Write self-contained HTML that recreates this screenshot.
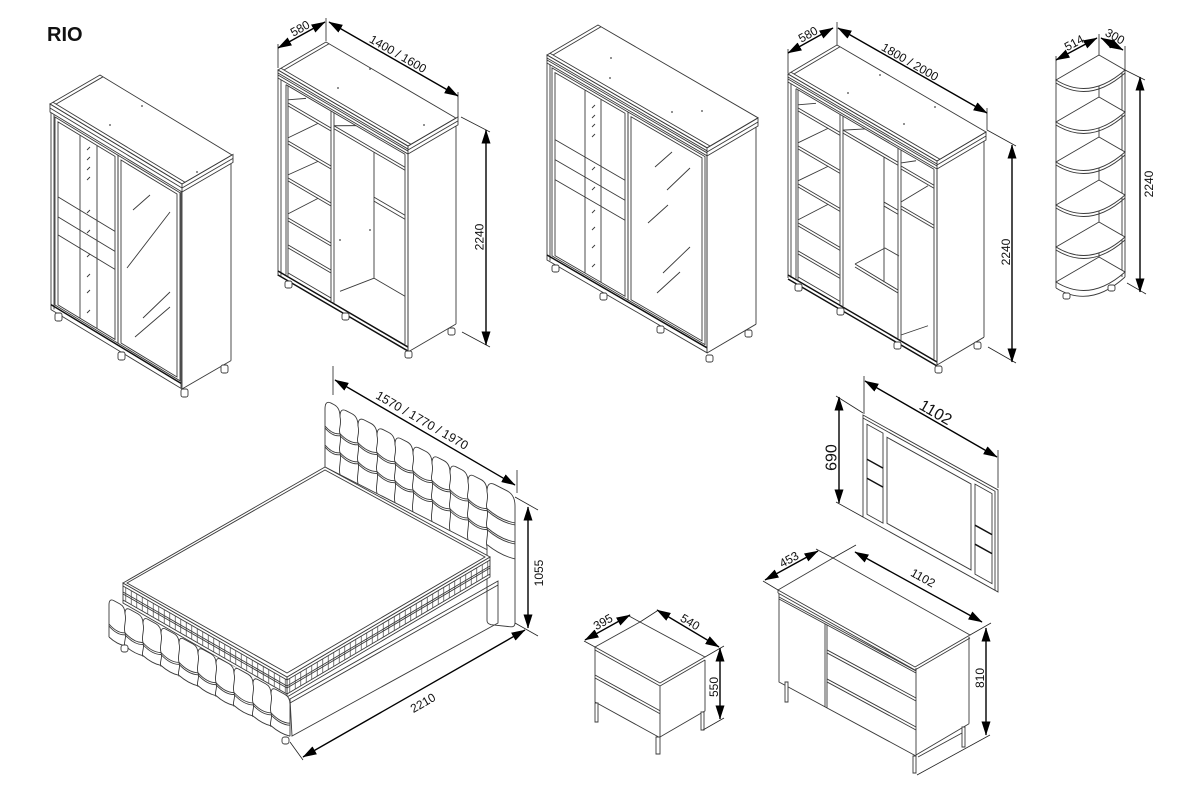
<!DOCTYPE html>
<html><head><meta charset="utf-8">
<style>
html,body{margin:0;padding:0;background:#fff;}
svg{display:block;}
svg *{vector-effect:non-scaling-stroke;}
.o path,.o rect,.o line{fill:none;stroke:#3a3a3a;stroke-width:0.9;}
.o .w{fill:#fff;}
.o .nf{fill:#fff;stroke:none;}
.o .k{stroke:#111;stroke-width:1.5;}
.o .p{fill:url(#tk);stroke:none;}
.o .dt{fill:#444;stroke:none;}
.d line,.d path{stroke:#000;stroke-width:1.4;fill:none;}
.e path{stroke:#222;stroke-width:0.8;fill:none;}
text{font-family:"Liberation Sans",Arial,sans-serif;fill:#111;}
.t{font-size:12px;}
.tb{font-size:16px;}
</style></head>
<body>
<svg width="1200" height="800" viewBox="0 0 1200 800" xmlns="http://www.w3.org/2000/svg">
<defs>
<marker id="ar" viewBox="0 0 14 9" refX="13.5" refY="4.5" markerWidth="14" markerHeight="9" markerUnits="userSpaceOnUse" orient="auto-start-reverse"><path d="M0 0L14 4.5L0 9Z" fill="#000" stroke="none"/></marker>
<pattern id="tk" patternUnits="userSpaceOnUse" width="5.5" height="40"><path d="M2.75 0V40" stroke="#555" stroke-width="0.7" fill="none"/></pattern>
</defs>

<text x="47" y="41" font-size="20" font-weight="bold">RIO</text>

<g class="o">
<!-- ===== Wardrobe 1 ===== -->
<g transform="matrix(1,0.606,1,-0.58,50,104)"><path d="M0 0H132V50H0Z M0 3H132 M3 3V50"/></g>
<g transform="matrix(1,0.606,0,1,50,104)">
<path d="M0 0H132V8H0Z M0 4H132"/>
<path d="M1 8V205H131V8 M4 8V203"/>
<path d="M5 10H68V198H5Z M8 13H65V196H8Z M30 13V196 M47 13V196 M8 88H65 M8 108H65 M8 126H65"/>
<path d="M68 10H130V198H68Z M71 13H127V196H71Z"/>
<path class="k" d="M1 200H131"/>
</g>
<g transform="matrix(1,-0.58,0,1,182,184)"><path d="M0 0H51V8H0 M0 4H51 M0 8V205 M49 8V205 M0 205H49"/></g>
<path d="M133 210L150 195 M127 268L170 212 M143 318L170 292 M135 337L170 307"/>
<path d="M87 150L90 147 M87 160L90 157 M87 170L90 167 M87 180L90 177 M87 213L90 210 M87 233L90 230 M87 257L90 254 M87 277L90 274 M87 293L90 290 M87 313L90 310"/>
<rect class="w" x="55" y="313" width="7" height="8" rx="2"/><rect class="w" x="118" y="352" width="7" height="8" rx="2"/><rect class="w" x="181" y="389" width="7" height="8" rx="2"/><rect class="w" x="221" y="365" width="7" height="8" rx="2"/>
<circle class="dt" cx="110" cy="125" r="0.9"/><circle class="dt" cx="142" cy="106" r="0.9"/><circle class="dt" cx="197" cy="172" r="0.9"/>

<!-- ===== Wardrobe 2 ===== -->
<g transform="matrix(1,0.585,1,-0.583,278,70)"><path d="M0 0H130V48H0Z M0 3H130 M3 3V48"/></g>
<g transform="matrix(1,0.585,0,1,278,70)">
<path d="M0 0H130V8H0Z M0 3H130 M0 5H130"/>
<path d="M0 8V206 M3 8V204 M8 10V200 M10 10V200 M130 8V206 M127 10V200 M8 10H127"/>
<path d="M53 10V200 M56 10V200"/>
<path d="M10 27H53 M10 30H53 M10 65H53 M10 68H53 M10 102H53 M10 105H53 M10 142H53 M10 145H53 M10 169H53 M10 172H53 M10 197H53"/>
<path d="M10 24L28 12 M10 62L40 30 M10 99L40 68 M10 138L40 105"/>
<path d="M56 23H127 M56 26H127 M56 23L78 10 M96 26V152 M96 71H127 M96 75H127 M96 71V75 M96 152H127 M96 152L62 185"/>
<path class="k" d="M0 201H130 M0 205H130"/>
</g>
<g transform="matrix(1,-0.583,0,1,408,146)"><path d="M0 0H50V8H0 M0 4H50 M0 8V206 M48 8V206 M0 206H48"/></g>
<rect class="w" x="285" y="281" width="7" height="7" rx="2"/><rect class="w" x="342" y="313" width="7" height="7" rx="2"/><rect class="w" x="405" y="351" width="7" height="7" rx="2"/><rect class="w" x="448" y="328" width="7" height="7" rx="2"/>
<circle class="dt" cx="338" cy="88" r="0.9"/><circle class="dt" cx="370" cy="69" r="0.9"/><circle class="dt" cx="424" cy="125" r="0.9"/><circle class="dt" cx="370" cy="230" r="0.9"/><circle class="dt" cx="340" cy="240" r="0.9"/>

<!-- ===== Wardrobe 3 ===== -->
<g transform="matrix(1,0.58,1,-0.588,547,55)"><path d="M0 0H160V51H0Z M0 3H160 M3 3V51"/></g>
<g transform="matrix(1,0.58,0,1,547,55)">
<path d="M0 0H160V8H0Z M0 3H160 M0 5H160"/>
<path d="M0 8V205H160V8 M3 8V204"/>
<path d="M5 10H81V198H5Z M8 13H78V196H8Z M38 13V196 M54 13V196 M8 80H78 M8 100H78 M8 120H78"/>
<path d="M81 10H158V198H81Z M84 13H155V196H84Z"/>
<path class="k" d="M0 200H160"/>
</g>
<g transform="matrix(1,-0.588,0,1,707,148)"><path d="M0 0H51V8H0 M0 4H51 M0 8V205 M49 8V205 M0 205H49"/></g>
<path d="M655 167L672 152 M667 190L690 168 M648 223L668 205 M663 273L690 247 M657 293L680 272"/>
<path d="M592 108L595 105 M592 118L595 115 M592 127L595 124 M592 137L595 134 M592 170L595 167 M592 190L595 187 M592 213L595 210 M592 230L595 227 M592 248L595 245 M592 267L595 264"/>
<rect class="w" x="552" y="265" width="7" height="7" rx="2"/><rect class="w" x="600" y="293" width="7" height="7" rx="2"/><rect class="w" x="657" y="326" width="7" height="7" rx="2"/><rect class="w" x="706" y="355" width="7" height="7" rx="2"/><rect class="w" x="745" y="330" width="7" height="7" rx="2"/>
<circle class="dt" cx="611" cy="58" r="0.9"/><circle class="dt" cx="610" cy="78" r="0.9"/><circle class="dt" cx="702" cy="111" r="0.9"/><circle class="dt" cx="672" cy="112" r="0.9"/>

<!-- ===== Wardrobe 4 ===== -->
<g transform="matrix(1,0.584,1,-0.592,788,74)"><path d="M0 0H149V49H0Z M0 3H149 M3 3V49"/></g>
<g transform="matrix(1,0.584,0,1,788,74)">
<path d="M0 0H149V8H0Z M0 3H149 M0 5H149"/>
<path d="M0 8V204 M3 8V202 M8 10V200 M10 10V200 M149 8V204 M146 10V200 M8 10H146"/>
<path d="M52 10V200 M55 10V200 M110 10V200 M113 10V200"/>
<path d="M10 28H52 M10 31H52 M10 66H52 M10 69H52 M10 104H52 M10 107H52 M10 143H52 M10 146H52 M10 171H52 M10 174H52 M10 197H52"/>
<path d="M10 25L28 13 M10 63L40 31 M10 101L40 69 M10 140L40 107"/>
<path d="M55 24H110 M55 27H110 M55 24L77 10 M96 27V152 M96 72H110 M96 76H110 M96 72V76"/>
<path d="M113 26H146 M113 29H146 M113 66H146 M113 69H146 M113 23L128 12 M113 62L140 30 M113 195L140 170"/>
<path class="k" d="M0 201H149 M0 205H149"/>
</g>
<g transform="matrix(1,-0.592,0,1,937,161)"><path d="M0 0H49V8H0 M0 4H49 M0 8V204 M47 8V204 M0 204H47"/></g>
<path d="M855 264L885 248L899 256 M855 264L898 290 M855 267L898 293"/>
<rect class="w" x="795" y="284" width="7" height="7" rx="2"/><rect class="w" x="837" y="308" width="7" height="7" rx="2"/><rect class="w" x="894" y="342" width="7" height="7" rx="2"/><rect class="w" x="935" y="366" width="7" height="7" rx="2"/><rect class="w" x="974" y="342" width="7" height="7" rx="2"/>
<circle class="dt" cx="848" cy="93" r="0.9"/><circle class="dt" cx="880" cy="75" r="0.9"/><circle class="dt" cx="904" cy="124" r="0.9"/><circle class="dt" cx="935" cy="107" r="0.9"/>

<!-- ===== Corner shelf ===== -->
<path d="M1056 80V288 M1125 70V277 M1122 72V277 M1099 55V259"/>
<path class="w" d="M1056 80L1099 55L1125 70Q1090 101 1056 80Z"/><path d="M1056 83Q1090 104 1125 73"/>
<path class="w" d="M1056 122L1099 97L1125 112Q1090 143 1056 122Z"/><path d="M1056 125Q1090 146 1125 115"/>
<path class="w" d="M1056 162L1099 137L1125 152Q1090 183 1056 162Z"/><path d="M1056 165Q1090 186 1125 155"/>
<path class="w" d="M1056 205L1099 180L1125 195Q1090 226 1056 205Z"/><path d="M1056 208Q1090 229 1125 198"/>
<path class="w" d="M1056 247L1099 222L1125 237Q1090 268 1056 247Z"/><path d="M1056 250Q1090 271 1125 240"/>
<path class="w" d="M1056 282L1099 257L1125 272Q1090 303 1056 282Z"/><path d="M1056 288Q1090 309 1125 277"/>
<rect class="w" x="1063" y="293" width="7" height="6" rx="2"/><rect class="w" x="1108" y="285" width="7" height="6" rx="2"/>

<!-- ===== Bed ===== -->
<g transform="matrix(1,0.51,0,1,325,400)">
<path d="M0 67V9Q0 0 6 0L9 0Q15 0 15 9 M0 26Q7.5 31 15 26 M0 28Q7.5 33 15 28 M0 45Q7.5 50 15 45 M0 47Q7.5 52 15 47"/>
<path d="M15 9Q15 0 21 0L27 0Q33 0 33 9 M15 26Q24 31 33 26 M15 28Q24 33 33 28 M15 45Q24 50 33 45 M15 47Q24 52 33 47 M15 9C17 17 13 22 15 26C17 34 13 40 15 45C17 52 13 60 15 67"/>
<path d="M33 9Q33 0 39 0L46 0Q52 0 52 9 M33 26Q42.5 31 52 26 M33 28Q42.5 33 52 28 M33 45Q42.5 50 52 45 M33 47Q42.5 52 52 47 M33 9C35 17 31 22 33 26C35 34 31 40 33 45C35 52 31 60 33 67"/>
<path d="M52 9Q52 0 58 0L64 0Q70 0 70 9 M52 26Q61 31 70 26 M52 28Q61 33 70 28 M52 45Q61 50 70 45 M52 47Q61 52 70 47 M52 9C54 17 50 22 52 26C54 34 50 40 52 45C54 52 50 60 52 67"/>
<path d="M70 9Q70 0 76 0L82 0Q88 0 88 9 M70 26Q79 31 88 26 M70 28Q79 33 88 28 M70 45Q79 50 88 45 M70 47Q79 52 88 47 M70 9C72 17 68 22 70 26C72 34 68 40 70 45C72 52 68 60 70 67"/>
<path d="M88 9Q88 0 94 0L101 0Q107 0 107 9 M88 26Q97.5 31 107 26 M88 28Q97.5 33 107 28 M88 45Q97.5 50 107 45 M88 47Q97.5 52 107 47 M88 9C90 17 86 22 88 26C90 34 86 40 88 45C90 52 86 60 88 67"/>
<path d="M107 9Q107 0 113 0L119 0Q125 0 125 9 M107 26Q116 31 125 26 M107 28Q116 33 125 28 M107 45Q116 50 125 45 M107 47Q116 52 125 47 M107 9C109 17 105 22 107 26C109 34 105 40 107 45C109 52 105 60 107 67"/>
<path d="M125 9Q125 0 131 0L137 0Q143 0 143 9 M125 26Q134 31 143 26 M125 28Q134 33 143 28 M125 45Q134 50 143 45 M125 47Q134 52 143 47 M125 9C127 17 123 22 125 26C127 34 123 40 125 45C127 52 123 60 125 67"/>
<path d="M143 9Q143 0 149 0L156 0Q162 0 162 9 M143 26Q152.5 31 162 26 M143 28Q152.5 33 162 28 M143 45Q152.5 50 162 45 M143 47Q152.5 52 162 47 M143 9C145 17 141 22 143 26C145 34 141 40 143 45C145 52 141 60 143 67"/>
<path d="M162 9Q162 -2 170 -2L182 -2Q190 -2 190 9 M162 26Q176 31 190 26 M162 28Q176 33 190 28 M162 45Q176 50 190 45 M162 47Q176 52 190 47 M162 9C164 17 160 22 162 26C164 34 160 40 162 45C164 52 160 60 162 64 M162 62Q176 66 190 62 M162 64V138Q162 141 166 140L186 132Q190 130 190 126V9"/>
<path d="M0 67H162"/>
</g>
<path d="M290 699L498 581V623L292 736Z M290 703L498 585"/>
<g transform="matrix(1,-0.591,0,1,287,677)">
<rect class="w" x="0" y="0" width="203" height="20"/>
<rect class="p" x="0" y="3" width="203" height="14"/>
<path d="M0 3H203 M0 9H203 M0 11H203 M0 17H203"/>
</g>
<g transform="matrix(1,0.573,0,1,123,583)">
<rect class="w" x="0" y="0" width="164" height="20"/>
<rect class="p" x="0" y="3" width="164" height="14"/>
<path d="M0 3H164 M0 9H164 M0 11H164 M0 17H164"/>
</g>
<path class="w" d="M123 583L325 467L490 557L287 677Z"/>
<path d="M127 583L325 470L485 557L287 673Z"/>
<g transform="matrix(1,0.548,0,1,109,600)">
<path class="nf" d="M0 5Q0 -2 5 -2H176Q181 -2 181 5V39H0Z"/>
<path d="M0 37V5Q0 -2 5 -2L11 -2Q16 -2 16 5 M0 24Q8 29 16 24 M0 26Q8 31 16 26 M0 37Q8 40 16 37"/>
<path d="M16 5Q16 -2 21 -2L29 -2Q34 -2 34 5 M16 24Q25 29 34 24 M16 26Q25 31 34 26 M16 37Q25 40 34 37 M16 5C18 11 14 18 16 24C18 29 14 34 16 38"/>
<path d="M34 5Q34 -2 39 -2L47 -2Q52 -2 52 5 M34 24Q43 29 52 24 M34 26Q43 31 52 26 M34 37Q43 40 52 37 M34 5C36 11 32 18 34 24C36 29 32 34 34 38"/>
<path d="M52 5Q52 -2 57 -2L65 -2Q70 -2 70 5 M52 24Q61 29 70 24 M52 26Q61 31 70 26 M52 37Q61 40 70 37 M52 5C54 11 50 18 52 24C54 29 50 34 52 38"/>
<path d="M70 5Q70 -2 75 -2L84 -2Q89 -2 89 5 M70 24Q79.5 29 89 24 M70 26Q79.5 31 89 26 M70 37Q79.5 40 89 37 M70 5C72 11 68 18 70 24C72 29 68 34 70 38"/>
<path d="M89 5Q89 -2 94 -2L102 -2Q107 -2 107 5 M89 24Q98 29 107 24 M89 26Q98 31 107 26 M89 37Q98 40 107 37 M89 5C91 11 87 18 89 24C91 29 87 34 89 38"/>
<path d="M107 5Q107 -2 112 -2L120 -2Q125 -2 125 5 M107 24Q116 29 125 24 M107 26Q116 31 125 26 M107 37Q116 40 125 37 M107 5C109 11 105 18 107 24C109 29 105 34 107 38"/>
<path d="M125 5Q125 -2 130 -2L139 -2Q144 -2 144 5 M125 24Q134.5 29 144 24 M125 26Q134.5 31 144 26 M125 37Q134.5 40 144 37 M125 5C127 11 123 18 125 24C127 29 123 34 125 38"/>
<path d="M144 5Q144 -2 149 -2L157 -2Q162 -2 162 5 M144 24Q153 29 162 24 M144 26Q153 31 162 26 M144 37Q153 40 162 37 M144 5C146 11 142 18 144 24C146 29 142 34 144 38"/>
<path d="M162 5Q162 -2 167 -2L176 -2Q181 -2 181 5V37 M162 24Q171.5 29 181 24 M162 26Q171.5 31 181 26 M162 37Q171.5 40 181 37 M162 5C164 11 160 18 162 24C164 29 160 34 162 38"/>
</g>
<rect class="w" x="121" y="645" width="7" height="7" rx="2.5"/><rect class="w" x="282" y="737" width="7" height="7" rx="2.5"/>

<!-- ===== Nightstand ===== -->
<path d="M595 647L640 622L705 657L660 683Z M595 650L660 686L705 660 M595 647V650"/>
<g transform="matrix(1,0.55,0,1,595,650)"><path d="M0 0V52H65V0 M0 25H65 M0 28H65"/></g>
<g transform="matrix(1,-0.58,0,1,660,686)"><path d="M45 0V51H0"/></g>
<rect class="w" x="595" y="703" width="3" height="19"/><rect class="w" x="656" y="737" width="4" height="17"/><rect class="w" x="701" y="712" width="3" height="18"/>

<!-- ===== Mirror ===== -->
<g transform="matrix(1,0.555,0,1,863,415)">
<path d="M0 0H135V102H0Z M0 3H132V102"/>
<path d="M4 7H20V97H4Z M24 9H108V95H24Z M112 7H129V97H112Z"/>
<path class="k" d="M4 42H20 M4 61H20 M112 48H129 M112 67H129"/>
</g>

<!-- ===== Dresser ===== -->
<path d="M778 590L833 558L970 635L915 667Z M778 593L915 670L970 638 M778 590V593"/>
<g transform="matrix(1,0.54,0,1,779,594)">
<path d="M0 0V88H137V0 M0 3H137 M0 5H137 M46 5V88 M48 5V88"/>
<path d="M48 30H137 M48 33H137 M48 59H137 M48 62H137"/>
</g>
<g transform="matrix(1,-0.57,0,1,916,668)"><path d="M53 -1V86 M0 87L53 86"/></g>
<path d="M918 757L962 733"/>
<rect class="w" x="785" y="682" width="3" height="20"/><rect class="w" x="913" y="756" width="3" height="17"/><rect class="w" x="962" y="727" width="3" height="20"/>
</g>

<!-- ===== Extension lines ===== -->
<g class="e">
<path d="M278 44V68 M326 18V41 M458 92V117 M461 117L490 132 M462 332L490 347"/>
<path d="M788 49V73 M837 22V45 M987 108V130 M987 130L1016 146 M988 347L1016 363"/>
<path d="M1056 56V80 M1099 34V55 M1125 46V70 M1125 70L1145 80 M1127 283L1146 294"/>
<path d="M333 366V395 M517 470V493 M515 497L538 510 M515 623L538 636 M290 742L303 760"/>
<path d="M584 641L595 647 M629 616L640 622 M640 622L657 611 M705 657L724 646 M703 730L724 718"/>
<path d="M864 376V414 M998 450V488 M836 396L863 413 M836 502L863 517"/>
<path d="M763 581L778 590 M816 549L833 558 M833 558L856 545 M970 635L991 623 M917 775L990 735"/>
</g>

<!-- ===== Dimension lines ===== -->
<g class="d">
<line x1="278" y1="48" x2="325" y2="22" marker-start="url(#ar)" marker-end="url(#ar)"/>
<line x1="329" y1="22" x2="458" y2="96" marker-start="url(#ar)" marker-end="url(#ar)"/>
<line x1="486" y1="130" x2="486" y2="345" marker-start="url(#ar)" marker-end="url(#ar)"/>
<line x1="788" y1="53" x2="833" y2="28" marker-start="url(#ar)" marker-end="url(#ar)"/>
<line x1="838" y1="28" x2="987" y2="113" marker-start="url(#ar)" marker-end="url(#ar)"/>
<line x1="1012" y1="145" x2="1012" y2="362" marker-start="url(#ar)" marker-end="url(#ar)"/>
<line x1="1056" y1="60" x2="1097" y2="38" marker-start="url(#ar)" marker-end="url(#ar)"/>
<line x1="1101" y1="38" x2="1123" y2="50" marker-start="url(#ar)" marker-end="url(#ar)"/>
<line x1="1140" y1="77" x2="1140" y2="292" marker-start="url(#ar)" marker-end="url(#ar)"/>
<line x1="335" y1="380" x2="515" y2="485" marker-start="url(#ar)" marker-end="url(#ar)"/>
<line x1="528" y1="507" x2="528" y2="628" marker-start="url(#ar)" marker-end="url(#ar)"/>
<line x1="525" y1="630" x2="303" y2="757" marker-start="url(#ar)" marker-end="url(#ar)"/>
<line x1="585" y1="640" x2="630" y2="615" marker-start="url(#ar)" marker-end="url(#ar)"/>
<line x1="657" y1="610" x2="719" y2="647" marker-start="url(#ar)" marker-end="url(#ar)"/>
<line x1="720" y1="648" x2="720" y2="719" marker-start="url(#ar)" marker-end="url(#ar)"/>
<line x1="865" y1="381" x2="997" y2="457" marker-start="url(#ar)" marker-end="url(#ar)"/>
<line x1="839" y1="397" x2="839" y2="503" marker-start="url(#ar)" marker-end="url(#ar)"/>
<line x1="765" y1="580" x2="818" y2="551" marker-start="url(#ar)" marker-end="url(#ar)"/>
<line x1="855" y1="552" x2="982" y2="622" marker-start="url(#ar)" marker-end="url(#ar)"/>
<line x1="986" y1="628" x2="986" y2="735" marker-start="url(#ar)" marker-end="url(#ar)"/>
</g>

<!-- ===== Labels ===== -->
<g class="t" text-anchor="middle">
<text x="302" y="32" transform="rotate(-29 302 32)">580</text>
<text x="396" y="57.5" transform="rotate(30 396 57.5)">1400 / 1600</text>
<text x="483.5" y="237" transform="rotate(-90 483.5 237)">2240</text>
<text x="810" y="38" transform="rotate(-29 810 38)">580</text>
<text x="908" y="65.5" transform="rotate(30 908 65.5)">1800 / 2000</text>
<text x="1010" y="252" transform="rotate(-90 1010 252)">2240</text>
<text x="1076" y="46.5" transform="rotate(-28 1076 46.5)">514</text>
<text x="1113" y="40" transform="rotate(29 1113 40)">300</text>
<text x="1153" y="184" transform="rotate(-90 1153 184)">2240</text>
<text x="420" y="424" transform="rotate(30 420 424)" style="font-size:12.5px">1570 / 1770 / 1970</text>
<text x="543" y="573" transform="rotate(-90 543 573)">1055</text>
<text x="425" y="706.5" transform="rotate(-30 425 706.5)">2210</text>
<text x="605" y="625.5" transform="rotate(-29 605 625.5)">395</text>
<text x="688" y="625.5" transform="rotate(31 688 625.5)">540</text>
<text x="718" y="687" transform="rotate(-90 718 687)">550</text>
<text x="791" y="563" transform="rotate(-29 791 563)">453</text>
<text x="921" y="581.5" transform="rotate(29 921 581.5)">1102</text>
<text x="984" y="678" transform="rotate(-90 984 678)">810</text>
</g>
<g class="tb" text-anchor="middle">
<text x="933" y="417" transform="rotate(30 933 417)">1102</text>
<text x="836.5" y="457.5" transform="rotate(-90 836.5 457.5)">690</text>
</g>
</svg>
</body></html>
